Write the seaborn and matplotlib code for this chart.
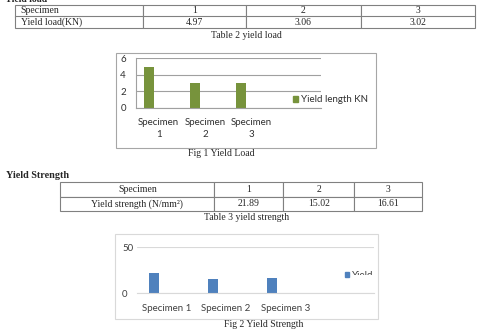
import matplotlib
matplotlib.use("Agg")
import matplotlib.pyplot as plt
import seaborn as sns
import pandas as pd
from matplotlib.patches import Rectangle, Patch
from matplotlib.transforms import Bbox, TransformedBbox

# values
specimens = ["1", "2", "3"]
yield_load = [4.97, 3.06, 3.02]
yield_load_text = ["4.97", "3.06", "3.02"]
yield_strength = [21.89, 15.02, 16.61]
yield_strength_text = ["21.89", "15.02", "16.61"]
fig1_labels = ["Specimen\n1", "Specimen\n2", "Specimen\n3"]
fig2_labels = ["Specimen 1", "Specimen 2", "Specimen 3"]
fig1_series = "Yield length KN"
fig2_series = "Yield"

GREEN = "#77933c"
BLUE = "#4f81bd"
W, H = 484, 331

sns.set_theme(style="white")
plt.rcParams["font.family"] = ["Liberation Serif", "DejaVu Serif"]
SANS = ["Lato", "DejaVu Sans"]


def rect(x0, y0, x1, y1):
    return [x0 / W, 1 - y1 / H, (x1 - x0) / W, (y1 - y0) / H]


def ftext(x, y, s, **kw):
    return fig.text(x / W, 1 - y / H, s, **kw)


def frame(x0, y0, x1, y1, color):
    fig.patches.append(Rectangle((x0 / W, 1 - y1 / H), (x1 - x0) / W, (y1 - y0) / H,
                                 transform=fig.transFigure, fill=False,
                                 edgecolor=color, lw=0.8))


fig = plt.figure(figsize=(W / 100, H / 100), dpi=100)
fig.patch.set_facecolor("white")

# ---- Table 2 ----
# heading is cut by the page edge in the original
ftext(5, 2.5, "Yield load", fontsize=7, fontweight="bold", va="baseline")
tax = fig.add_axes(rect(15, 4.7, 475, 28.3))
tax.axis("off")
t2 = tax.table(cellText=[["Specimen"] + specimens, ["Yield load(KN)"] + yield_load_text],
               colWidths=[127.7, 103, 115, 114.3], cellLoc="center", bbox=[0, 0, 1, 1])
t2.auto_set_font_size(False)
for (r, c), cell in t2.get_celld().items():
    cell.set_edgecolor("#808080")
    cell.set_linewidth(0.8)
    cell.get_text().set_fontsize(7)
    if c == 0:
        cell._loc = "left"
        cell.PAD = 0.045
        cell.get_text().set_ha("left")
ftext(246, 35, "Table 2 yield load", fontsize=7, ha="center", va="center")

# ---- Fig 1 ----
frame(116, 52.5, 376, 147.5, "#a6a6a6")
ax1 = fig.add_axes(rect(135.5, 58.3, 320.8, 107.8))
df1 = pd.DataFrame({"specimen": fig1_labels, "value": yield_load, "series": fig1_series})
sns.barplot(data=df1, x="specimen", y="value", hue="series",
            order=fig1_labels + [" "], hue_order=[fig1_series, "s2", "s3"],
            palette={fig1_series: GREEN, "s2": GREEN, "s3": GREEN},
            width=0.648, gap=0, dodge=True, saturation=1, linewidth=0,
            legend=False, ax=ax1)
ax1.set_xlim(-0.5, 3.5)
ax1.set_ylim(0, 6)
ax1.set_yticks([0, 2, 4, 6])
ax1.set_xlabel("")
ax1.set_ylabel("")
ax1.grid(axis="y", color="#a0a0a0", lw=0.8)
ax1.set_axisbelow(True)
for s in ["top", "right"]:
    ax1.spines[s].set_visible(False)
for s in ["left", "bottom"]:
    ax1.spines[s].set_color("#a0a0a0")
    ax1.spines[s].set_linewidth(0.8)
ax1.set_xticks([-0.5, 0.5, 1.5, 2.5, 3.5], minor=True)
ax1.tick_params(axis="x", which="major", length=0, pad=7, labelsize=7, labelcolor="#303030")
ax1.tick_params(axis="x", which="minor", length=3, width=0.8, color="#a0a0a0", direction="out")
ax1.tick_params(axis="y", length=2, width=0.8, color="#a0a0a0", pad=5, labelsize=7,
                labelcolor="#303030")
ax1.set_xticks(range(4), fig1_labels + [""])
for lab in ax1.get_xticklabels() + ax1.get_yticklabels():
    lab.set_family(SANS)
    lab.set_linespacing(1.45)
ax1.patch.set_alpha(0)
fig.legend(handles=[Patch(color=GREEN, label=fig1_series)], loc="center left",
           bbox_to_anchor=(293 / W, 1 - 100 / H), frameon=False, prop={"family": SANS, "size": 7},
           handlelength=0.5, handleheight=0.5, handletextpad=0.3, borderpad=0, borderaxespad=0,
           labelcolor="#303030")
ftext(221, 153.3, "Fig 1 Yield Load", fontsize=7, ha="center", va="center")

# ---- Table 3 ----
ftext(6, 175.7, "Yield Strength", fontsize=7.3, fontweight="bold", va="center")
tax3 = fig.add_axes(rect(60.3, 182, 421.7, 211))
tax3.axis("off")
t3 = tax3.table(cellText=[["Specimen"] + specimens,
                          ["Yield strength (N/mm²)"] + yield_strength_text],
                colWidths=[154, 69, 71, 67.4], cellLoc="center", bbox=[0, 0, 1, 1])
t3.auto_set_font_size(False)
for cell in t3.get_celld().values():
    cell.set_edgecolor("#808080")
    cell.set_linewidth(0.8)
    cell.get_text().set_fontsize(7)
ftext(246.7, 217.3, "Table 3 yield strength", fontsize=7, ha="center", va="center")

# ---- Fig 2 ----
frame(115, 234, 377.7, 318.7, "#d9d9d9")
ax2 = fig.add_axes(rect(137.3, 247.3, 374.3, 293.3))
df2 = pd.DataFrame({"specimen": fig2_labels, "value": yield_strength, "series": fig2_series})
sns.barplot(data=df2, x="specimen", y="value", hue="series",
            order=fig2_labels + [" "], hue_order=[fig2_series, "s2", "s3"],
            palette={fig2_series: BLUE, "s2": BLUE, "s3": BLUE},
            width=0.658, gap=0.23, dodge=True, saturation=1, linewidth=0,
            legend=False, ax=ax2)
ax2.set_xlim(-0.5, 3.5)
ax2.set_ylim(0, 50)
ax2.set_yticks([0, 50])
ax2.set_xlabel("")
ax2.set_ylabel("")
ax2.grid(axis="y", color="#d9d9d9", lw=0.8)
ax2.set_axisbelow(True)
for s in ["top", "right", "left"]:
    ax2.spines[s].set_visible(False)
ax2.spines["bottom"].set_color("#d9d9d9")
ax2.spines["bottom"].set_linewidth(0.8)
ax2.tick_params(axis="both", length=0, labelsize=7, labelcolor="#404040")
ax2.tick_params(axis="x", pad=8)
ax2.tick_params(axis="y", pad=11)
ax2.set_xticks(range(4), fig2_labels + [""])
for lab in ax2.get_xticklabels() + ax2.get_yticklabels():
    lab.set_family(SANS)
for lab in ax2.get_yticklabels():
    lab.set_ha("left")
ax2.patch.set_alpha(0)
leg2 = fig.legend(handles=[Patch(color=BLUE, label=fig2_series)], loc="center left",
                  bbox_to_anchor=(345 / W, 1 - 275.3 / H), frameon=False,
                  prop={"family": SANS, "size": 7}, handlelength=0.45, handleheight=0.45,
                  handletextpad=0.3, borderpad=0, borderaxespad=0, labelcolor="#404040")
# Excel clipped the legend text in the original
clip = TransformedBbox(Bbox.from_extents(340 / W, 1 - 275.3 / H, 380 / W, 1 - 262 / H),
                       fig.transFigure)
for txt in leg2.get_texts():
    txt.set_clip_box(clip)
    txt.set_clip_on(True)
ftext(264, 324.3, "Fig 2 Yield Strength", fontsize=7, ha="center", va="center")

fig.savefig("out.png", dpi=100)
